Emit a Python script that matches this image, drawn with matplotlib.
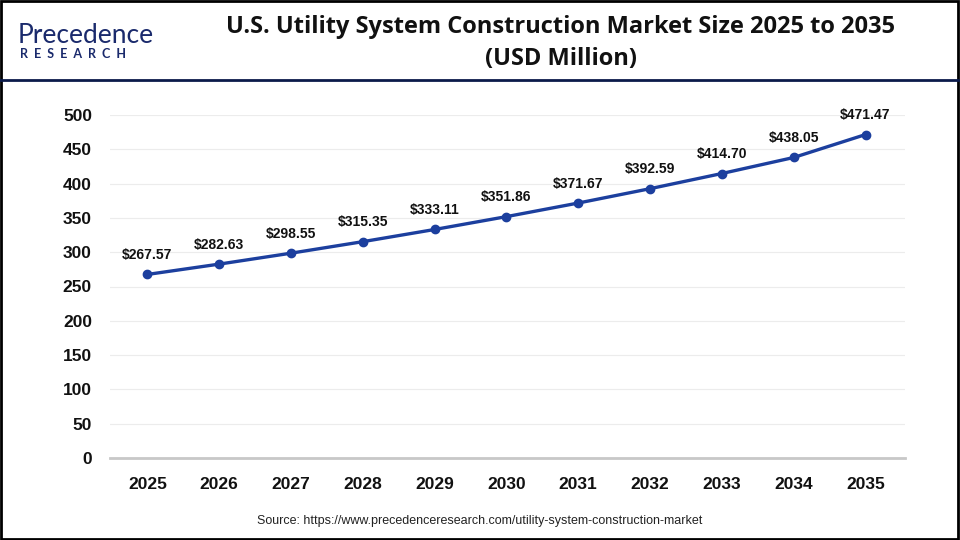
import matplotlib.pyplot as plt
from matplotlib.lines import Line2D
from matplotlib.patches import Rectangle

years = ['2025', '2026', '2027', '2028', '2029', '2030', '2031', '2032', '2033', '2034', '2035']
values = [267.57, 282.63, 298.55, 315.35, 333.11, 351.86, 371.67, 392.59, 414.70, 438.05, 471.47]
yticks = [0, 50, 100, 150, 200, 250, 300, 350, 400, 450, 500]

title = 'U.S. Utility System Construction Market Size 2025 to 2035\n(USD Million)'
source = 'Source: https://www.precedenceresearch.com/utility-system-construction-market'

plt.rcParams['font.family'] = ['Liberation Sans', 'DejaVu Sans']

fig = plt.figure(figsize=(9.6, 5.4), dpi=100)
fig.patch.set_facecolor('white')

# frame and header line
fig.add_artist(Rectangle((0.001, 0.002), 0.997, 0.996, transform=fig.transFigure,
                         fill=False, edgecolor='black', linewidth=2))
fig.add_artist(Line2D([0, 1], [1 - 80 / 540, 1 - 80 / 540], transform=fig.transFigure,
                      color='#0b1a4a', linewidth=2))

# logo
fig.text(0.018, 1 - 43 / 540, 'Precedence', fontsize=19, color='#1a2a6c',
         family='Lato', va='baseline', ha='left')
fig.text(0.021, 1 - 54 / 540, 'R  E  S  E  A  R  C  H', fontsize=9, color='#1a2a6c',
         family='Lato', fontweight='bold', va='center', ha='left')

fig.text(0.584, 1 - 43 / 540, title, ha='center', va='center', fontsize=17,
         fontweight='bold', family='Open Sans', linespacing=1.45, color='#111111')

ax = fig.add_axes([110 / 960, 1 - 458 / 540, 795 / 960, 343 / 540])
x = list(range(len(years)))
ax.plot(x, values, color='#1c3f9e', linewidth=2.4, marker='o', markersize=6, zorder=3)
for xi, v in zip(x, values):
    ax.annotate(f'${v:.2f}', (xi, v), xytext=(0, 9), textcoords='offset points',
                ha='center', va='bottom', fontsize=10, fontweight='bold', color='#111111')

ax.set_xlim(-0.52, 10.55)
ax.set_ylim(0, 500)
ax.set_yticks(yticks)
ax.set_xticks(x)
ax.set_xticklabels(years)
ax.grid(axis='y', color='#ececec', linewidth=0.8)
ax.set_axisbelow(True)
for s in ['top', 'right', 'left']:
    ax.spines[s].set_visible(False)
ax.spines['bottom'].set_color('#c8c8c8')
ax.spines['bottom'].set_linewidth(2)
ax.tick_params(axis='both', length=0, labelsize=12.5, colors='#111111')
ax.tick_params(axis='x', pad=14)
ax.tick_params(axis='y', pad=13)
for lab in ax.get_xticklabels() + ax.get_yticklabels():
    lab.set_fontweight('bold')

fig.text(0.5, 1 - 521 / 540, source, ha='center', va='center', fontsize=9, color='#222222')

fig.savefig('out.png', dpi=100)
